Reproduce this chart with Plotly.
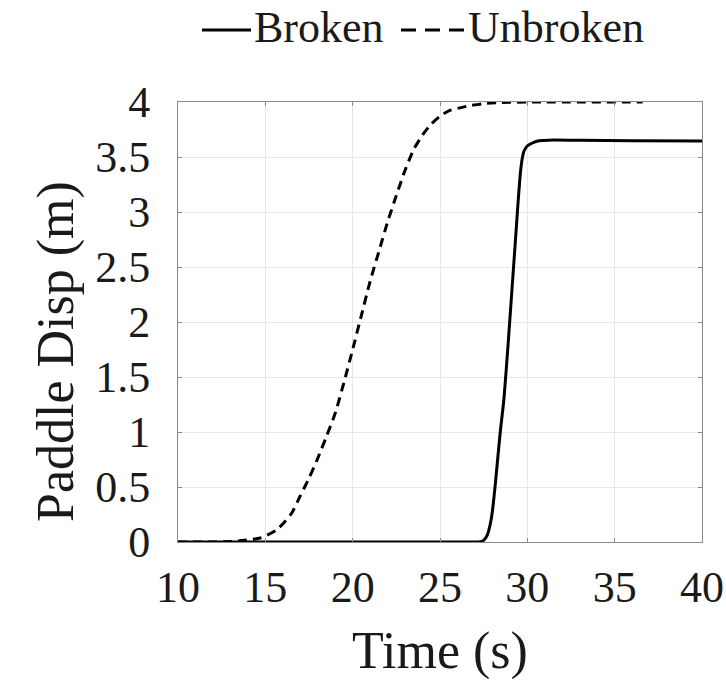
import plotly.graph_objects as go

# Broken wave paddle displacement
t_broken = [10, 20, 27.0, 27.3, 27.5, 27.7, 27.9, 28.0, 28.15, 28.3, 28.45, 28.66, 28.9,
            29.1, 29.3, 29.48, 29.6, 29.7, 29.8, 29.9, 30.0, 30.2, 30.34, 30.6, 30.9, 31.5,
            33, 36, 40]
d_broken = [0, 0, 0, 0.003, 0.015, 0.06, 0.18, 0.28, 0.5, 0.75, 1.0, 1.3, 1.8,
            2.25, 2.7, 3.11, 3.35, 3.48, 3.55, 3.58, 3.6, 3.62, 3.63, 3.645, 3.65, 3.655,
            3.652, 3.648, 3.645]

# Unbroken wave paddle displacement
t_unbroken = [10, 12, 13, 13.8, 14.7, 15.65, 16.5, 17.0, 17.5, 18.0, 18.5, 19.0, 19.5,
              20.0, 20.5, 21.0, 21.5, 22.0, 22.5, 23.0, 23.5, 24.0, 24.5, 25.0, 25.5,
              26.5, 27.5, 28.5, 30, 36.6]
d_unbroken = [0, 0, 0.005, 0.015, 0.036, 0.11, 0.26, 0.42, 0.58, 0.76, 0.96, 1.17, 1.45,
              1.75, 2.06, 2.37, 2.64, 2.91, 3.15, 3.38, 3.57, 3.7, 3.8, 3.87, 3.92,
              3.96, 3.985, 3.995, 4.0, 4.0]

x_ticks = [10, 15, 20, 25, 30, 35, 40]
y_ticks = [0, 0.5, 1, 1.5, 2, 2.5, 3, 3.5, 4]
y_tick_text = ["0", "0.5", "1", "1.5", "2", "2.5", "3", "3.5", "4"]
series_names = ["Broken", "Unbroken"]

FONT = "Liberation Serif"
TXT = "#1a1a1a"
W, H = 726, 680
ML, MR, MT, MB = 178, 24, 102, 138
PW, PH = W - ML - MR, H - MT - MB


def px_x(p):  # pixel -> paper x
    return (p - ML) / PW


def px_y(p):  # pixel -> paper y
    return (H - MB - p) / PH


fig = go.Figure()
fig.add_trace(go.Scatter(x=t_broken, y=d_broken, mode="lines", name=series_names[0],
                         showlegend=False,
                         line=dict(color="black", width=3, shape="spline", smoothing=0.6)))
fig.add_trace(go.Scatter(x=t_unbroken, y=d_unbroken, mode="lines", name=series_names[1],
                         showlegend=False,
                         line=dict(color="black", width=3, dash="9px,6px", shape="spline", smoothing=0.6)))

axis_common = dict(
    showline=True, linecolor="#8a8a8a", linewidth=1, mirror="ticks",
    ticks="inside", ticklen=4, tickcolor="#8a8a8a", tickwidth=1,
    showgrid=True, gridcolor="#e6e6e6", gridwidth=1, zeroline=False,
    tickfont=dict(family=FONT, size=44, color=TXT),
)

fig.update_xaxes(range=[10, 40], tickvals=x_ticks, ticklabelstandoff=6,
                 title=dict(text="Time (s)", font=dict(family=FONT, size=52, color=TXT), standoff=20),
                 **axis_common)
fig.update_yaxes(range=[0, 4], tickvals=y_ticks, ticktext=y_tick_text, ticklabelstandoff=18,
                 **axis_common)

# y-axis title (placed as in the reference)
fig.add_annotation(text="Paddle Disp (m)", textangle=-90, xref="paper", yref="paper",
                   x=px_x(56), y=px_y(352), xanchor="center", yanchor="middle",
                   showarrow=False, font=dict(family=FONT, size=52, color=TXT))

# Legend drawn above the axes
leg_y = 30
fig.add_shape(type="line", xref="paper", yref="paper", x0=px_x(202), x1=px_x(251),
              y0=px_y(leg_y), y1=px_y(leg_y), line=dict(color="black", width=3))
fig.add_annotation(text=series_names[0], xref="paper", yref="paper", x=px_x(252), y=px_y(leg_y - 2),
                   xanchor="left", yanchor="middle", showarrow=False,
                   font=dict(family=FONT, size=44, color=TXT))
fig.add_shape(type="line", xref="paper", yref="paper", x0=px_x(401), x1=px_x(465),
              y0=px_y(leg_y), y1=px_y(leg_y), line=dict(color="black", width=3, dash="15px,9px"))
fig.add_annotation(text=series_names[1], xref="paper", yref="paper", x=px_x(466), y=px_y(leg_y - 2),
                   xanchor="left", yanchor="middle", showarrow=False,
                   font=dict(family=FONT, size=44, color=TXT))

fig.update_layout(
    width=W, height=H,
    margin=dict(l=ML, r=MR, t=MT, b=MB, autoexpand=False),
    paper_bgcolor="white", plot_bgcolor="white",
    showlegend=False,
)

fig.write_html("out.html")
